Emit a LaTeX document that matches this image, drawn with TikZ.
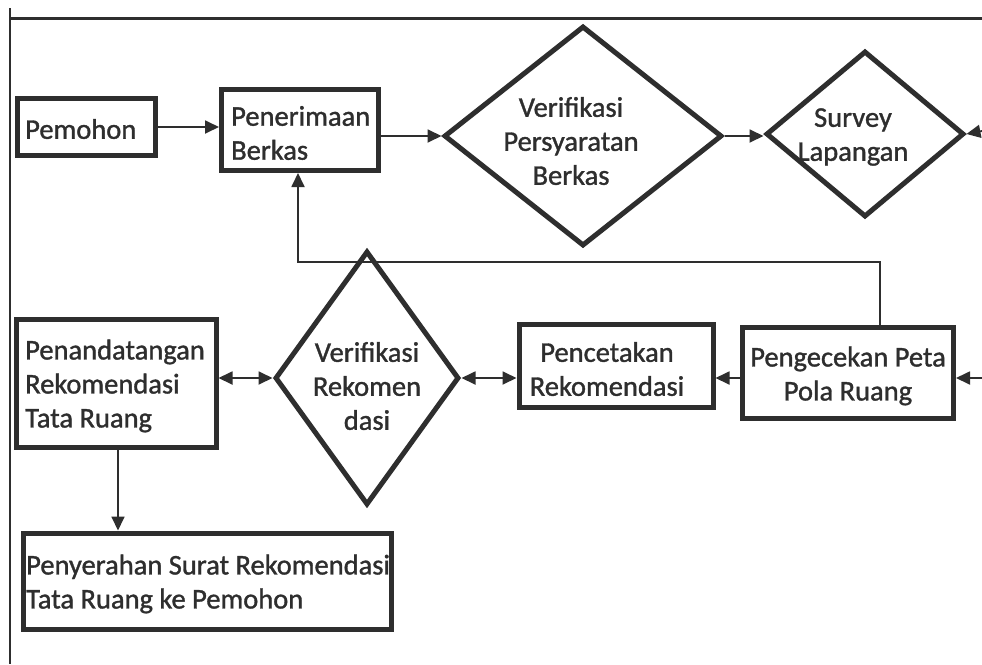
\documentclass[tikz,border=0pt]{standalone}
\usepackage{fontspec}
\setmainfont{Carlito}[FakeBold=1.2]
\usetikzlibrary{shapes.geometric,arrows.meta}
\definecolor{ink}{HTML}{2E2E2E}
\begin{document}
\begin{tikzpicture}[x=1pt,y=-1pt,
  box/.style={draw=ink,line width=5pt,inner sep=0pt},
  dia/.style={diamond,draw=ink,line width=5pt,inner sep=0pt},
  lbl/.style={text=ink,font=\fontsize{28.5}{34}\selectfont,inner sep=0pt},
  con/.style={draw=ink,line width=1.8pt,-{Triangle[length=14pt,width=13pt]}},
  bi/.style={draw=ink,line width=1.8pt,{Triangle[length=14pt,width=13pt]}-{Triangle[length=14pt,width=13pt]}}]
\useasboundingbox (0,0) rectangle (982,664);
\fill[white] (0,0) rectangle (982,664);
% frame
\draw[ink,line width=3pt] (10,18) -- (982,18);
\draw[ink,line width=1.6pt] (10,8) -- (10,664);
% top row
\node[box,minimum width=138,minimum height=57] (pem) at (86,127) {};
\node[lbl,anchor=west] (tpem) at (25,129) {Pemohon};
\node[box,minimum width=157,minimum height=81] (pen) at (300,130) {};
\node[lbl,anchor=west,align=left] (tpen) at (231,133) {Penerimaan\\Berkas};
\node[dia,minimum width=278,minimum height=220] (vp) at (583,136) {};
\node[lbl,align=center] (tvp) at (571,141) {Verifikasi\\Persyaratan\\Berkas};
\node[dia,minimum width=198,minimum height=166] (sv) at (865,134) {};
\node[lbl,align=center] (tsv) at (853,137) {Survey\\Lapangan};
% middle row
\node[box,minimum width=200,minimum height=128] (ttd) at (116,383) {};
\node[lbl,anchor=west,align=left] (tttd) at (25,386) {Penandatangan\\Rekomendasi\\Tata Ruang};
\node[dia,minimum width=184,minimum height=254] (vr) at (367,378) {};
\node[lbl,align=center] (tvr) at (367,386) {Verifikasi\\Rekomen\\dasi};
\node[box,minimum width=194,minimum height=83] (pct) at (616,366) {};
\node[lbl,align=center] (tpct) at (607,369) {Pencetakan\\Rekomendasi};
\node[box,minimum width=211,minimum height=91] (cek) at (848,373) {};
\node[lbl,align=center] (tcek) at (848,376) {Pengecekan Peta\\Pola Ruang};
% bottom
\node[box,minimum width=368,minimum height=96] (srh) at (207,581) {};
\node[lbl,anchor=west,align=left] (tsrh) at (26,584) {Penyerahan Surat Rekomendasi\\Tata Ruang ke Pemohon};
% outside ends
\coordinate (e1) at (982,131);
\coordinate (e2) at (982,378);
% connectors
\draw[con] (pem.east) -- (pem.east -| pen.west);
\draw[con] (pen.east |- vp.west) -- (vp.west);
\draw[con] (vp.east) -- (vp.east -| sv.west);
\draw[con] (e1) -- (sv.east);
\draw[con] (e2) -- (e2 -| cek.east);
\draw[con] (cek.west |- e2) -- (e2 -| pct.east);
\draw[bi] (vr.east) -- (vr.east -| pct.west);
\draw[bi] (vr.west -| ttd.east) -- (vr.west);
\draw[con] (cek.north -| 880,0) -- (880,262) -- (298,262) -- (298,0 |- pen.south);
\draw[con] (ttd.south -| 118,0) -- (118,0 |- srh.north);
\end{tikzpicture}
\end{document}
